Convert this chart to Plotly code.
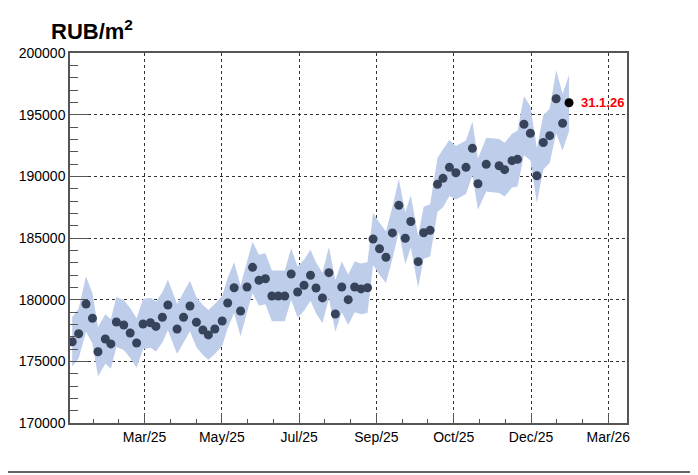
import plotly.graph_objects as go
import pandas as pd

# ---- data ----
last_date = "2026-01-31"
day_offsets = [-540,-533,-525,-518,-512,-504,-498,-492,-484,-477,
               -470,-463,-455,-449,-442,-436,-426,-419,-412,-405,
               -398,-392,-385,-377,-371,-364,-357,-350,-344,-337,
               -330,-323,-316,-309,-302,-295,-288,-281,-275,-268,
               -261,-254,-247,-240,-233,-226,-219,-213,-206,-199,
               -192,-185,-178,-172,-164,-158,-151,-143,-137,-130,
               -123,-112,-105,-99,-90,-76,-70,-62,-56,-49,
               -42,-35,-28,-21,-14,-7,0]
price = [176590,177240,179650,178490,175780,176810,176410,178190,177950,177300,
         176490,178030,178130,177830,178570,179570,177620,178570,179490,178170,
         177540,177140,177620,178270,179730,180970,179080,181030,182620,181570,
         181700,180300,180300,180300,182080,180620,181170,181980,180950,180140,
         182190,178840,181030,180000,181030,180870,180970,184920,184130,183440,
         185410,187650,184980,186340,183080,185430,185620,189350,189840,190730,
         190290,190730,192270,189400,190980,190860,190540,191270,191380,194220,
         193490,190050,192740,193300,196290,194300,195970]
band_upper = [178600,179260,181900,180530,177780,178820,178420,180220,179980,179320,
              178500,180060,180160,179860,180610,181620,179640,180610,181540,180200,
              179560,179160,179640,180300,181780,183030,181120,183090,184700,183640,
              183770,182360,182360,182360,184160,182680,183240,184050,183010,182190,
              184270,181600,183090,182050,183090,182930,183030,187030,186230,185530,
              187520,189790,187090,188460,185170,187540,187740,191480,192200,192950,
              192460,192900,194450,191450,193120,193020,192720,193450,193700,196500,
              195690,192300,194940,195500,198600,196700,198220]
band_lower = [174580,175220,177400,176450,173780,174800,174400,176160,175920,175280,
              174480,176000,176100,175800,176530,177520,175600,176530,177440,176140,
              175520,175120,175600,176240,177680,178910,177040,178970,180540,179500,
              179630,178240,178240,178240,180000,178560,179100,179910,178890,178090,
              180110,177400,178970,177950,178970,178810,178910,182810,182030,181350,
              183300,185510,182870,184220,180990,183320,183500,187100,187500,188400,
              188120,188560,190080,187300,188770,188640,188360,189090,189180,191700,
              191290,187850,190540,191100,193500,192100,193650]
tick_dates = ["2024-10-26 16:48", "2025-01-18 16:48", "2025-04-12 16:48", "2025-07-05 16:48",
              "2025-09-27 16:48", "2025-12-20 16:48", "2026-03-14 16:48"]
tick_labels = ["Mar/25", "May/25", "Jul/25", "Sep/25", "Oct/25", "Dec/25", "Mar/26"]
last_label = "31.1.26"
unit_title = "<b>RUB/m<sup>2</sup></b>"

dates = pd.Timestamp(last_date) + pd.to_timedelta(day_offsets, unit="D")

FONT = "Liberation Sans, Arial, Helvetica, sans-serif"
band_color = "rgb(190,205,234)"
dot_color = "#36435b"
frame_color = "#555555"

fig = go.Figure()
fig.add_trace(go.Scatter(x=dates, y=band_lower, mode="lines", line=dict(width=0),
                         hoverinfo="skip", showlegend=False))
fig.add_trace(go.Scatter(x=dates, y=band_upper, mode="lines", line=dict(width=0),
                         fill="tonexty", fillcolor=band_color, hoverinfo="skip",
                         showlegend=False))
fig.add_trace(go.Scatter(x=dates[:-1], y=price[:-1], mode="markers",
                         marker=dict(size=9, color=dot_color), showlegend=False))
fig.add_trace(go.Scatter(x=dates[-1:], y=price[-1:], mode="markers",
                         marker=dict(size=9, color="black"), showlegend=False))

fig.add_annotation(x=dates[-1], y=price[-1], text=f"<b>{last_label}</b>", showarrow=False,
                   xanchor="left", yanchor="middle", xshift=10,
                   font=dict(family=FONT, size=13, color="red"))
fig.add_annotation(xref="paper", yref="paper", x=-0.038, y=1.062, text=unit_title,
                   showarrow=False, xanchor="left", yanchor="middle",
                   font=dict(family=FONT, size=22, color="black"))

x0 = pd.Timestamp(last_date) + pd.Timedelta(days=-542.4)
x1 = pd.Timestamp(last_date) + pd.Timedelta(days=63.0)

fig.update_xaxes(type="date", range=[x0, x1], tickmode="array", tickvals=tick_dates,
                 ticktext=tick_labels, ticks="inside", ticklen=10, tickwidth=1,
                 tickcolor=frame_color, showline=True, linecolor=frame_color, linewidth=1.5,
                 mirror=True, showgrid=True, gridcolor="#333333", griddash="dot", gridwidth=1,
                 zeroline=False, tickfont=dict(family=FONT, size=14, color="black"),
                 minor=dict(tickmode="linear", tick0="2026-03-14 16:48", dtick=28 * 86400000,
                            ticks="inside", ticklen=4, tickcolor=frame_color, showgrid=False))
fig.update_yaxes(range=[170000, 200000], tickmode="linear", tick0=170000, dtick=5000,
                 tickformat="d", ticks="inside", ticklen=18, tickwidth=1,
                 tickcolor=frame_color, showline=True, linecolor=frame_color, linewidth=1.5,
                 mirror=True, showgrid=True, gridcolor="#333333", griddash="dot", gridwidth=1,
                 zeroline=False, tickfont=dict(family=FONT, size=14, color="black"),
                 minor=dict(tickmode="linear", tick0=170000, dtick=1000, ticks="inside",
                            ticklen=8, tickcolor=frame_color, showgrid=False))

# canvas border (right and bottom)
fig.add_shape(type="line", xref="paper", yref="paper", x0=-0.13, x1=1.115, y0=-0.1324,
              y1=-0.1324, line=dict(color="#666666", width=2))
fig.add_shape(type="line", xref="paper", yref="paper", x0=1.115, x1=1.115, y0=-0.1324,
              y1=1.15, line=dict(color="#666666", width=2))

# page body has an 8px margin: size the figure so the plot frame lands where it should
fig.update_layout(width=690, height=467, margin=dict(l=62, r=71, t=45, b=52),
                  paper_bgcolor="white", plot_bgcolor="white", showlegend=False,
                  font=dict(family=FONT, size=14, color="black"))

fig.write_html("out.html")
